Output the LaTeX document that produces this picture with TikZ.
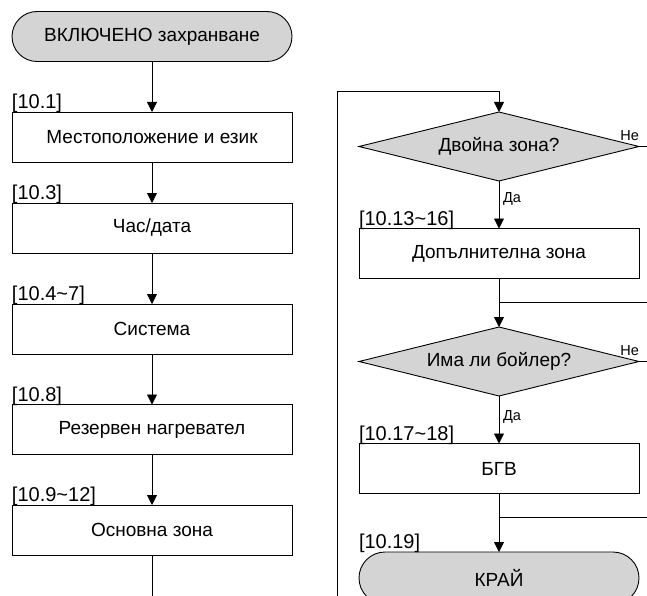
\documentclass[tikz,border=0pt]{standalone}
\usepackage{fontspec}
\setmainfont{Liberation Sans}
\usetikzlibrary{shapes.geometric,shapes.misc,arrows.meta}
\definecolor{fillgray}{gray}{0.83}
\tikzset{
  x=1pt,y=-1pt,
  every node/.style={inner sep=0pt,outer sep=0pt},
  mainfont/.style={font=\fontsize{19}{22}\selectfont},
  procbox/.style={draw,line width=0.9pt,minimum width=280pt,minimum height=50pt,mainfont},
  termbox/.style={draw,line width=0.9pt,fill=fillgray,rounded rectangle,minimum width=280pt,minimum height=50pt,mainfont},
  decbox/.style={draw,line width=0.9pt,fill=fillgray,diamond,aspect=4,minimum width=280pt,minimum height=69pt,mainfont},
  reflabel/.style={anchor=south west,font=\fontsize{20}{22}\selectfont,yshift=-1pt},
  small/.style={font=\fontsize{14.5}{16}\selectfont},
  flow/.style={line width=0.8pt,-{Triangle[length=10pt,width=10pt]}},
  plain/.style={line width=0.8pt}
}
\begin{document}
\begin{tikzpicture}
\useasboundingbox (0,0) rectangle (647,596);
\begin{scope}
\clip (0,0) rectangle (647,596);
% left column
\node[termbox] (start) at (152,36.5) {ВКЛЮЧЕНО захранване};
\node[procbox] (b1) at (152,137) {Местоположение и език};
\node[procbox] (b2) at (152,228) {Час/дата};
\node[procbox] (b3) at (152,329) {Система};
\node[procbox] (b4) at (152,429.5) {Резервен нагревател};
\node[procbox] (b5) at (152,530) {Основна зона};
\node[reflabel] (l1) at (b1.north west) {[10.1]};
\node[reflabel] (l2) at (b2.north west) {[10.3]};
\node[reflabel] (l3) at (b3.north west) {[10.4\textasciitilde7]};
\node[reflabel] (l4) at (b4.north west) {[10.8]};
\node[reflabel] (l5) at (b5.north west) {[10.9\textasciitilde12]};
\draw[flow] (b1.north |- start.south) -- (b1.north);
\draw[flow] (b1.south) -- (b2.north);
\draw[flow] (b2.south) -- (b3.north);
\draw[flow] (b3.south) -- (b4.north);
\draw[flow] (b4.south) -- (b5.north);
\coordinate (lbot) at (152,600);
\draw[plain] (b5.south) -- (lbot);
% right column
\node[decbox] (d1) at (499,146.5) {Двойна зона?};
\node[procbox] (b6) at (499,253.5) {Допълнителна зона};
\node[decbox] (d2) at (499,361.5) {Има ли бойлер?};
\node[procbox] (b7) at (499,468.5) {БГВ};
\node[termbox,minimum height=52pt] (end) at (499,578) {КРАЙ};
\node[reflabel] (l6) at (b6.north west) {[10.13\textasciitilde16]};
\node[reflabel] (l7) at (b7.north west) {[10.17\textasciitilde18]};
\node[reflabel] (l8) at (end.west |- end.north) {[10.19]};
\coordinate (rbot) at (337,600);
\coordinate (rtop) at (337,91);
\coordinate (rtopc) at (499,91);
\draw[flow] (rbot) -- (rtop) -- (rtopc) -- (d1.north);
\draw[flow] (d1.south) -- (b6.north);
\node[small,anchor=west] (yes1) at (503,199) {Да};
\node[small,anchor=south east] (no1) at ([yshift=6pt]d1.east) {Не};
\coordinate (n1) at (650,146.5);
\draw[plain] (d1.east) -- (n1);
\coordinate (j1) at (499,302);
\coordinate (j1r) at (650,302);
\draw[plain] (j1) -- (j1r);
\draw[flow] (b6.south) -- (d2.north);
\draw[flow] (d2.south) -- (b7.north);
\node[small,anchor=west] (yes2) at (503,417) {Да};
\node[small,anchor=south east] (no2) at ([yshift=6pt]d2.east) {Не};
\coordinate (n2) at (650,361.5);
\draw[plain] (d2.east) -- (n2);
\coordinate (j2) at (499,517);
\coordinate (j2r) at (650,517);
\draw[plain] (j2) -- (j2r);
\draw[flow] (b7.south) -- (end.north);
\end{scope}
\end{tikzpicture}
\end{document}
